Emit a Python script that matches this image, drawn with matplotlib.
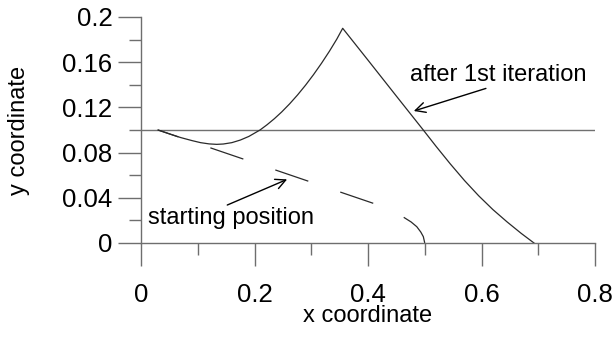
import matplotlib
matplotlib.use("Agg")
import matplotlib.pyplot as plt
from matplotlib.ticker import MultipleLocator, FixedLocator

plt.rcParams['font.family'] = ['Liberation Sans', 'DejaVu Sans']
plt.rcParams['lines.scale_dashes'] = False

# Beam shape before deformation (dashed)
start_x = [0.03, 0.41, 0.44, 0.464, 0.476, 0.486, 0.493, 0.4975, 0.5]
start_y = [0.100, 0.0350, 0.0298, 0.0224, 0.0186, 0.0144, 0.0097, 0.0056, 0.0]

# Shape after the first iteration
iter_x = [0.030, 0.050, 0.070, 0.090, 0.105, 0.120, 0.1334, 0.145, 0.160,
          0.175, 0.190, 0.2097, 0.222, 0.235, 0.248, 0.262, 0.276, 0.290,
          0.304, 0.318, 0.332, 0.345, 0.3554, 0.400, 0.450, 0.4974, 0.520,
          0.545, 0.570, 0.595, 0.620, 0.645, 0.670, 0.6925]
iter_y = [0.1000, 0.0966, 0.0933, 0.0906, 0.0888, 0.0877, 0.0873, 0.0876,
          0.0888, 0.0911, 0.0943, 0.1000, 0.1046, 0.1100, 0.1160, 0.1232,
          0.1311, 0.1397, 0.1490, 0.1590, 0.1697, 0.1804, 0.1900, 0.1618,
          0.1300, 0.1000, 0.0855, 0.0700, 0.0553, 0.0418, 0.0296, 0.0187,
          0.0085, 0.0]

# Reference level
ref_x = [0.0, 0.8]
ref_y = [0.1, 0.1]

x_ticks = [0, 0.2, 0.4, 0.6, 0.8]
x_tick_labels = ['0', '0.2', '0.4', '0.6', '0.8']
y_ticks = [0, 0.04, 0.08, 0.12, 0.16, 0.2]
y_tick_labels = ['0', '0.04', '0.08', '0.12', '0.16', '0.2']

fig = plt.figure(figsize=(6.16, 3.37), dpi=100)
ax = fig.add_axes([141 / 616, 1 - 243 / 337, 454 / 616, 226 / 337])

axis_col = '#6e6e6e'
line_col = '#2a2a2a'

ax.plot(ref_x, ref_y, color='#707070', lw=1.0, solid_capstyle='butt')
ax.plot(iter_x, iter_y, color=line_col, lw=0.9)
ax.plot(start_x, start_y, color=line_col, lw=0.9,
        linestyle=(9.6, (25.1, 24.3)))

ax.set_xlim(0, 0.8)
ax.set_ylim(0, 0.2)

for side in ('top', 'right'):
    ax.spines[side].set_visible(False)
for side in ('left', 'bottom'):
    ax.spines[side].set_color(axis_col)
    ax.spines[side].set_linewidth(1.0)

ax.xaxis.set_major_locator(FixedLocator(x_ticks))
ax.set_xticklabels(x_tick_labels)
ax.xaxis.set_minor_locator(MultipleLocator(0.1))
ax.yaxis.set_major_locator(FixedLocator(y_ticks))
ax.set_yticklabels(y_tick_labels)
ax.yaxis.set_minor_locator(MultipleLocator(0.02))

ax.tick_params(which='major', direction='out', length=16.6, width=1.0,
               color=axis_col, labelsize=18.5)
ax.tick_params(which='minor', direction='out', length=8.6, width=1.0,
               color=axis_col)
ax.tick_params(axis='x', which='major', pad=12)
ax.tick_params(axis='y', which='major', pad=4)

ax.set_xlabel('x coordinate', fontsize=17, labelpad=-1)
ax.set_ylabel('y coordinate', fontsize=17, labelpad=23)

ax.annotate('', xy=(0.2575, 0.0563), xytext=(0.152, 0.0336),
            arrowprops=dict(arrowstyle='->', color='black', lw=1.0,
                            mutation_scale=18, shrinkA=0, shrinkB=0))
ax.text(0.0123, 0.0168, 'starting position', fontsize=17, va='baseline',
        ha='left')

ax.annotate('', xy=(0.4807, 0.1168), xytext=(0.6078, 0.1368),
            arrowprops=dict(arrowstyle='->', color='black', lw=1.0,
                            mutation_scale=18, shrinkA=0, shrinkB=0))
ax.text(0.4740, 0.1435, 'after 1st iteration', fontsize=17, va='baseline',
        ha='left')

fig.savefig('out.png', dpi=100)
